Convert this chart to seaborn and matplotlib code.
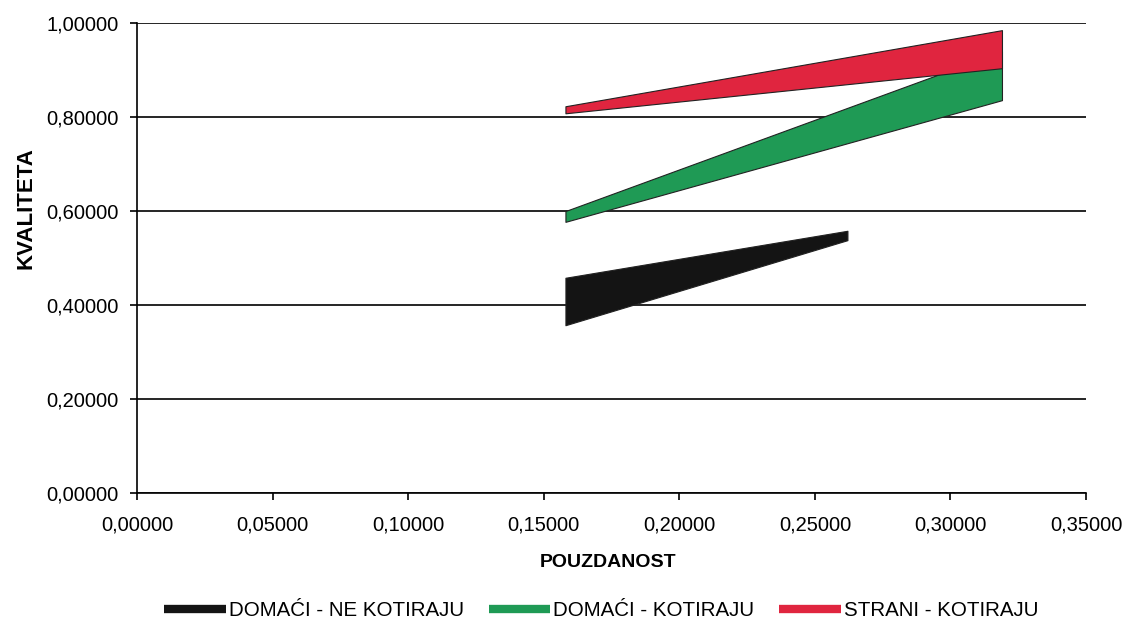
import matplotlib
matplotlib.use("Agg")
import matplotlib.pyplot as plt
import seaborn as sns
from matplotlib.ticker import FuncFormatter
from matplotlib.lines import Line2D

# Data
series_names = ["DOMAĆI - NE KOTIRAJU", "DOMAĆI - KOTIRAJU", "STRANI - KOTIRAJU"]
series_colors = ["#141414", "#1f9a55", "#e0253f"]

black_x = [0.158, 0.262]
black_low = [0.357, 0.538]
black_high = [0.458, 0.558]

green_x = [0.158, 0.319]
green_low = [0.577, 0.836]
green_high = [0.600, 0.940]

red_x = [0.158, 0.319]
red_low = [0.808, 0.904]
red_high = [0.823, 0.985]

x_ticks = [0.0, 0.05, 0.10, 0.15, 0.20, 0.25, 0.30, 0.35]
y_ticks = [0.0, 0.2, 0.4, 0.6, 0.8, 1.0]

sns.set_theme(style="white")
plt.rcParams["font.family"] = ["Liberation Sans", "DejaVu Sans"]
plt.rcParams["text.color"] = "black"
plt.rcParams["axes.labelcolor"] = "black"
plt.rcParams["xtick.color"] = "black"
plt.rcParams["ytick.color"] = "black"

fig = plt.figure(figsize=(11.26, 6.24), dpi=100)
ax = fig.add_axes([0.1217, 0.210, 0.8428, 0.753])

bands = [(black_x, black_low, black_high),
         (green_x, green_low, green_high),
         (red_x, red_low, red_high)]
for (bx, lo, hi), col in zip(bands, series_colors):
    ax.fill_between(bx, lo, hi, facecolor=col, edgecolor="#222222", linewidth=0.8, zorder=3)

fmt = FuncFormatter(lambda v, p: f"{v:.5f}".replace(".", ","))
ax.set_xlim(0, 0.35)
ax.set_ylim(0, 1.0)
ax.set_xticks(x_ticks)
ax.set_yticks(y_ticks)
ax.xaxis.set_major_formatter(fmt)
ax.yaxis.set_major_formatter(fmt)
ax.tick_params(axis="both", which="major", direction="out", length=5, width=1.2,
               colors="black", labelsize=14.5, bottom=True, left=True)
ax.tick_params(axis="x", pad=11)
ax.tick_params(axis="y", pad=8)

ax.yaxis.grid(True, color="black", linewidth=1.2, zorder=1)
ax.xaxis.grid(False)
ax.set_axisbelow(True)
for s in ["top", "right"]:
    ax.spines[s].set_visible(False)
for s in ["left", "bottom"]:
    ax.spines[s].set_color("black")
    ax.spines[s].set_linewidth(1.2)

ax.set_xlabel("POUZDANOST", fontsize=14, fontweight="bold")
ax.set_ylabel("KVALITETA", fontsize=16, fontweight="bold")
ax.xaxis.set_label_coords(0.496, -0.147)
ax.yaxis.set_label_coords(-0.117, 0.606)
ax.xaxis.label.set_va("center")
ax.yaxis.label.set_va("center")

handles = [Line2D([0], [0], color=c, linewidth=6, solid_capstyle="butt") for c in series_colors]
fig.legend(handles, series_names, loc="center", bbox_to_anchor=(0.534, 0.022), ncol=3,
           frameon=False, fontsize=14.8, handlelength=3.0, handletextpad=0.15,
           columnspacing=1.2)

fig.savefig("out.png", dpi=100, facecolor="white")
